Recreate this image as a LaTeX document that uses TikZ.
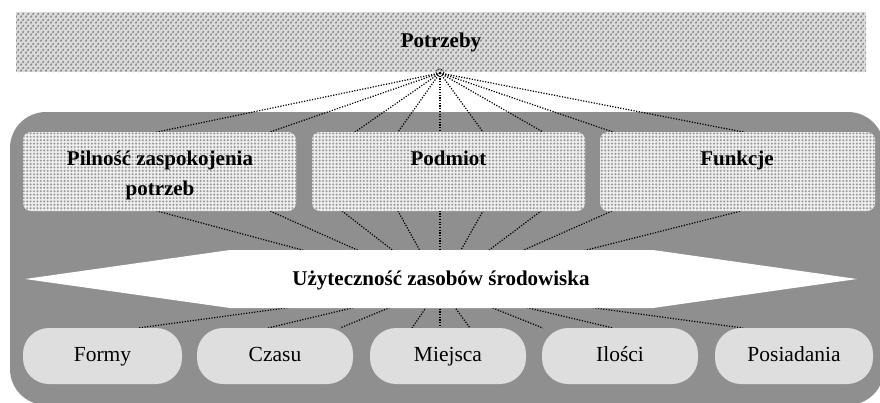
\documentclass[tikz,border=0pt]{standalone}
\usepackage{fontspec}
\setmainfont{Liberation Serif}
\usetikzlibrary{patterns.meta}
\definecolor{panelgray}{HTML}{8F8F8F}
\definecolor{pillgray}{HTML}{DEDEDE}
\definecolor{dotgray}{HTML}{9A9A9A}
\definecolor{dotbase}{HTML}{EEEEEE}
\definecolor{graingray}{HTML}{8A8A8A}
\definecolor{grainbase}{HTML}{DADADA}
\tikzdeclarepattern{
  name=dotgrid,
  type=uncolored,
  bounding box={(-1.7pt,-1.7pt) and (1.7pt,1.7pt)},
  tile size={(3.4pt,3.4pt)},
  code={\fill (0pt,0pt) circle [radius=1.15pt];}
}
\tikzdeclarepattern{
  name=dashgrain,
  type=uncolored,
  bounding box={(0pt,0pt) and (5pt,6pt)},
  tile size={(5pt,6pt)},
  code={\draw[line width=1.7pt, line cap=round] (1pt,1pt) -- (1.6pt,2.2pt);
        \draw[line width=1.7pt, line cap=round] (3.5pt,4pt) -- (4.1pt,5.2pt);}
}
\begin{document}
\begin{tikzpicture}[x=1pt,y=-1pt,
  boldlbl/.style={font=\fontsize{21}{30}\selectfont\bfseries, inner sep=0pt},
  fixedline/.style={text height=14pt, text depth=4.5pt},
  pill/.style={rectangle, rounded corners=26pt, fill=pillgray, minimum height=56pt, inner sep=0pt, text height=14.5pt, text depth=4.5pt, font=\fontsize{21.5}{24}\selectfont},
  topbox/.style={rectangle, rounded corners=8pt, preaction={fill=dotbase}, pattern=dotgrid, pattern color=dotgray, minimum height=79pt, inner sep=0pt},
  band/.style={rectangle, preaction={fill=grainbase}, pattern=dashgrain, pattern color=graingray, minimum width=850pt, minimum height=60pt, inner sep=0pt, font=\fontsize{21}{24}\selectfont\bfseries},
  link/.style={line width=1.2pt, dash pattern=on 1.2pt off 1.5pt, black}
]
\useasboundingbox (0,0) rectangle (880,402);
\begin{scope}
  \clip (0,0) rectangle (880,402);
  \fill[panelgray, rounded corners=36pt] (10,112) rectangle (884,405);
\end{scope}
% needs band
\node[band] (needs) at (441,42) {Potrzeby};
\coordinate (conv) at (440,73);
\coordinate (hub) at (440,287);
% rays from needs through the top boxes to the hub
\draw[link] (conv) -- (157,132) -- (157,211) -- (hub);
\draw[link] (conv) -- (270,132) -- (270,211) -- (hub);
\draw[link] (conv) -- (355,132) -- (342,211) -- (hub);
\draw[link] (conv) -- (398,132) -- (398,211) -- (hub);
\draw[link] (conv) -- (440,132) -- (440,211) -- (hub);
\draw[link] (conv) -- (483,132) -- (483,211) -- (hub);
\draw[link] (conv) -- (543,132) -- (541,211) -- (hub);
\draw[link] (conv) -- (613,132) -- (612,211) -- (hub);
\draw[link] (conv) -- (743,132) -- (741,211) -- (hub);
% rays from the hub to the bottom pills
\foreach \xx in {138,268,340,412,440,470,543,613,743}{
  \draw[link] (hub) -- (\xx,328);
}
% top boxes
\node[topbox, minimum width=273pt] (b1) at (159.5,171.5) {};
\node[topbox, minimum width=273pt] (b2) at (448.5,171.5) {};
\node[topbox, minimum width=275pt] (b3) at (737.5,171.5) {};
\node[boldlbl, align=center] (l1) at (160,175) {Pilność zaspokojenia\\potrzeb};
\node[boldlbl, fixedline] (l2) at (448.5,161) {Podmiot};
\node[boldlbl, fixedline] (l3) at (737,161) {Funkcje};
% white arrow
\fill[white] (25,279) -- (230,250) -- (653,250) -- (857,279) -- (653,308) -- (230,308) -- cycle;
\node[boldlbl, fixedline] (util) at (441,281) {Użyteczność zasobów środowiska};
% pills
\node[pill, minimum width=159pt] (p1) at (102.5,356) {Formy};
\node[pill, minimum width=156pt] (p2) at (275,356) {Czasu};
\node[pill, minimum width=156pt] (p3) at (448,356) {Miejsca};
\node[pill, minimum width=156pt] (p4) at (620,356) {Ilości};
\node[pill, minimum width=158pt] (p5) at (794,356) {Posiadania};
% small arc at convergence
\draw[line width=0.9pt, dash pattern=on 0.9pt off 1pt] (conv) ++(4,0) arc[start angle=0, end angle=-180, radius=4];
\end{tikzpicture}
\end{document}
